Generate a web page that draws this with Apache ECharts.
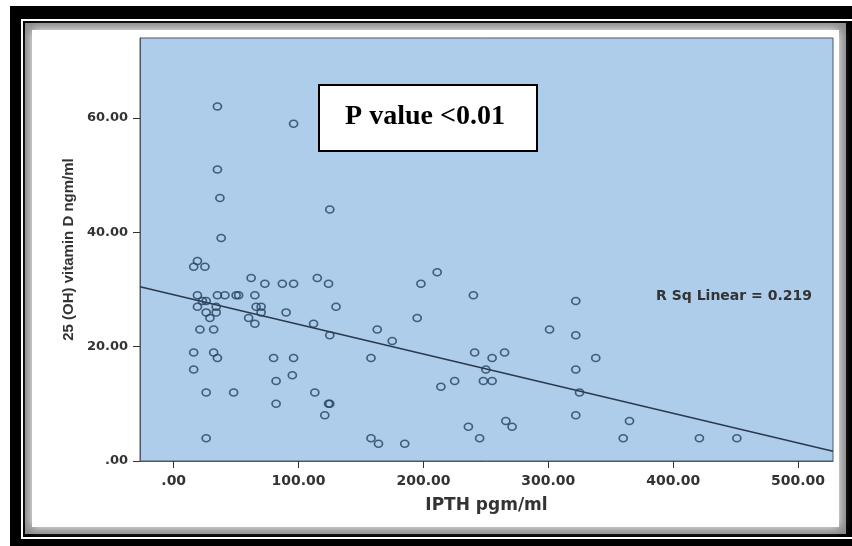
<!DOCTYPE html>
<html>
<head>
<meta charset="utf-8">
<script src="https://cdn.jsdelivr.net/npm/echarts@6/dist/echarts.min.js"></script>
<style>
  html, body { margin: 0; padding: 0; background: #fff; }
  .main { width: 852px; height: 546px; }
</style>
</head>
<body>
<div class="main"></div>
<script>
// IPTH (pgm/ml) against 25 (OH) vitamin D (ngm/ml)
var ipth = [35, 96, 35, 37, 125, 38, 16, 19, 25, 62, 73, 87, 96, 115, 124, 198, 211, 240, 322,
  19, 35, 41, 50, 52, 65, 19, 23, 26, 34, 26, 34, 29, 21, 32, 66, 70, 70, 60, 65, 90, 130,
  112, 125, 163, 175, 195, 301, 322, 16, 32, 35, 16, 80, 96, 95, 82, 26, 48, 113, 82, 124,
  125, 121, 26, 158, 158, 164, 185, 241, 255, 265, 338, 250, 322, 214, 225, 248, 255, 325,
  322, 365, 266, 271, 236, 245, 360, 421, 451];
var vitD = [62, 59, 51, 46, 44, 39, 34, 35, 34, 32, 31, 31, 31, 32, 31, 31, 33, 29, 28,
  29, 29, 29, 29, 29, 29, 27, 28, 28, 27, 26, 26, 25, 23, 23, 27, 27, 26, 25, 24, 26, 27,
  24, 22, 23, 21, 25, 23, 22, 19, 19, 18, 16, 18, 18, 15, 14, 12, 12, 12, 10, 10,
  10, 8, 4, 18, 4, 3, 3, 19, 18, 19, 18, 16, 16, 13, 14, 14, 14, 12,
  8, 7, 7, 6, 6, 4, 4, 4, 4];

// fit line ends, read at the plot edges
var fitX = [-27, 528];
var fitY = [30.5, 1.7];

var xTicks = [0, 100, 200, 300, 400, 500];
var yTicks = [0, 20, 40, 60];

var pts = [];
for (var i = 0; i < ipth.length; i++) {
  pts.push([ipth[i], vitD[i]]);
}
var fit = [];
for (var j = 0; j < fitX.length; j++) {
  fit.push([fitX[j], fitY[j]]);
}

function fmt(v) {
  return v === 0 ? '.00' : v.toFixed(2);
}

var lblFont = 'DejaVu Sans';
var myChart = echarts.init(document.querySelector('.main'));
var option = {
  backgroundColor: '#fff',
  animation: false,
  graphic: [
    // picture frame
    { type: 'rect', z: -5, shape: { x: 10, y: 6, width: 842, height: 540 }, style: { fill: '#000' } },
    { type: 'rect', z: -5, shape: { x: 21, y: 19, width: 831, height: 520 }, style: { fill: '#fff' } },
    { type: 'rect', z: -5, shape: { x: 23, y: 21, width: 829, height: 516 }, style: { fill: '#000' } },
    { type: 'rect', z: -5, shape: { x: 25, y: 23, width: 821, height: 511 }, style: { fill: '#8a8a8a' } },
    { type: 'rect', z: -5, shape: { x: 32, y: 30, width: 807, height: 497 },
      style: { fill: '#fff', shadowBlur: 10, shadowColor: '#fff' } },
    // P value box
    { type: 'rect', z: 100, shape: { x: 319, y: 85, width: 218, height: 66 },
      style: { fill: '#fff', stroke: '#000', lineWidth: 2 } },
    { type: 'text', z: 101, x: 425, y: 117,
      style: { text: 'P value <0.01', fill: '#000', font: 'bold 28px "Liberation Serif"',
        align: 'center', verticalAlign: 'middle' } },
    { type: 'text', z: 101, x: 734, y: 296,
      style: { text: 'R Sq Linear = 0.219', fill: '#333', font: 'bold 14px "DejaVu Sans"',
        align: 'center', verticalAlign: 'middle' } }
  ],
  grid: {
    left: 140, top: 38, width: 693, height: 423,
    show: true, backgroundColor: '#aecdeb', borderColor: '#4d5866', borderWidth: 1
  },
  xAxis: {
    type: 'value', min: -27, max: 528,
    name: 'IPTH pgm/ml', nameLocation: 'middle', nameGap: 36,
    nameTextStyle: { fontFamily: lblFont, fontWeight: 'bold', fontSize: 17, color: '#333' },
    axisLine: { show: true, onZero: false, lineStyle: { color: '#4d5866', width: 1 } },
    axisTick: { show: true, length: 7, customValues: xTicks, lineStyle: { color: '#333' } },
    axisLabel: { customValues: xTicks, margin: 13, formatter: fmt, fontFamily: lblFont,
      fontWeight: 'bold', fontSize: 14, color: '#333' },
    splitLine: { show: false }
  },
  yAxis: {
    type: 'value', min: 0, max: 74,
    name: '25 (OH) vitamin D ngm/ml', nameLocation: 'middle', nameGap: 64,
    nameTextStyle: { fontFamily: 'Liberation Sans', fontWeight: 'bold', fontSize: 15, color: '#333' },
    axisLine: { show: true, onZero: false, lineStyle: { color: '#4d5866', width: 1 } },
    axisTick: { show: true, length: 7, customValues: yTicks, lineStyle: { color: '#333' } },
    axisLabel: { customValues: yTicks, margin: 12, formatter: fmt, fontFamily: lblFont,
      fontWeight: 'bold', fontSize: 13, color: '#333' },
    splitLine: { show: false }
  },
  series: [{
    name: 'fit',
    type: 'line',
    data: fit,
    symbol: 'none',
    silent: true,
    lineStyle: { color: '#2a3a4c', width: 1.5 },
    z: 3
  }, {
    name: 'vitamin D',
    type: 'scatter',
    data: pts,
    symbol: 'circle',
    symbolSize: [8, 7],
    itemStyle: { color: 'rgba(0,0,0,0)', borderColor: '#27425f', borderWidth: 1.6 },
    z: 4
  }]
};
myChart.setOption(option);
</script>
</body>
</html>
